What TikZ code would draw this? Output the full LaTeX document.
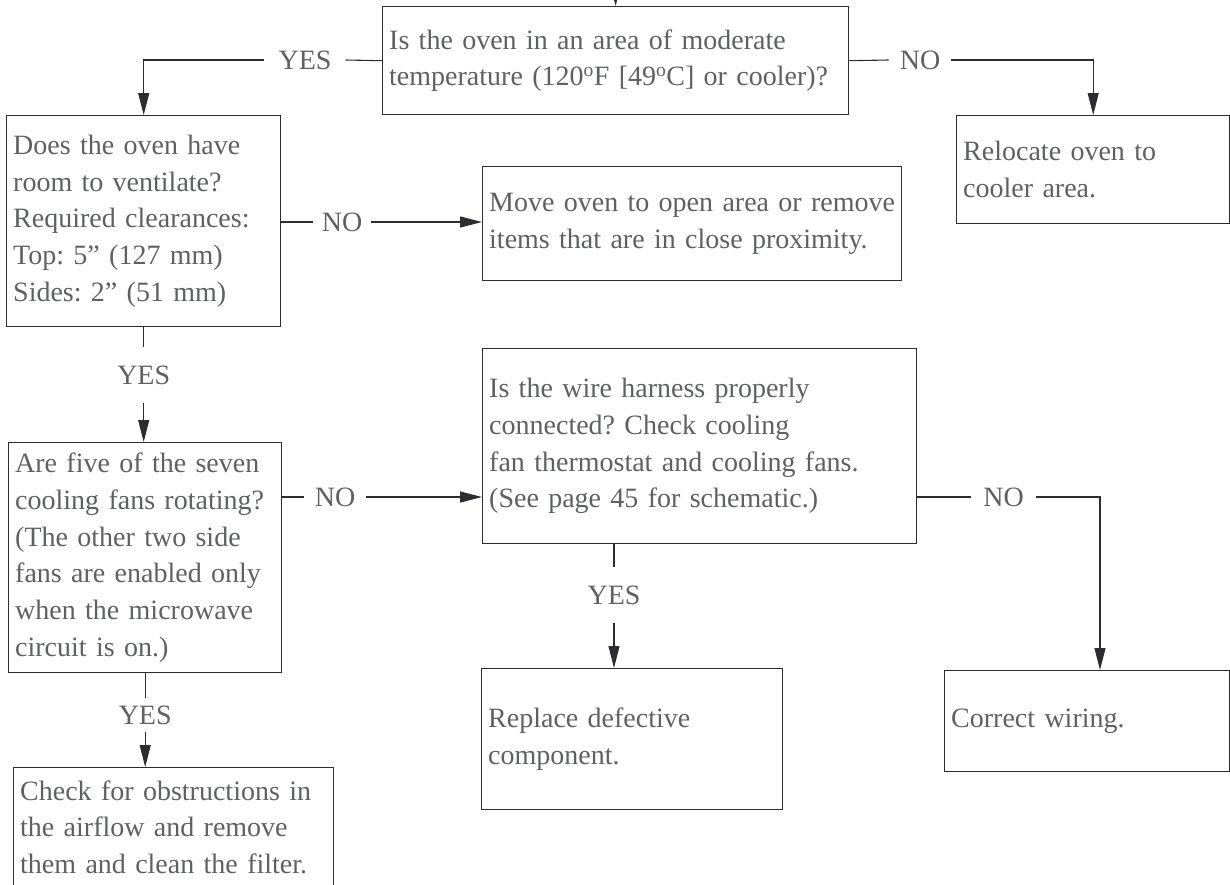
\documentclass[tikz,border=0pt]{standalone}
\usepackage{fontspec}
\setmainfont{Liberation Serif}
\usepackage{tikz}
\usetikzlibrary{arrows.meta,positioning}
\definecolor{flowtext}{RGB}{95,96,98}
\definecolor{flowline}{RGB}{45,45,47}
\frenchspacing

\begin{document}
\begin{tikzpicture}[
  x=1pt,y=-1pt,
  box/.style={draw=flowline,line width=1.4pt,align=left,text=flowtext,
    inner xsep=6.5pt,inner ysep=0pt,anchor=north west,
    font=\fontsize{28}{36.7}\selectfont},
  lbl/.style={text=flowtext,inner xsep=11pt,inner ysep=18pt,
    font=\fontsize{28}{36.7}\selectfont},
  link/.style={line width=1.1pt,draw=flowline},
  arr/.style={link,-{Triangle[length=22pt,width=11pt]}}
]
\useasboundingbox (0,0) rectangle (1230,884);
\clip (0,0) rectangle (1230,884);
\node[box,text width=453pt,minimum height=108pt] (temp) at (382,6) {Is the oven in an area of moderate\\temperature (120\textsuperscript{o}F [49\textsuperscript{o}C] or cooler)?};
\node[box,text width=261pt,minimum height=211pt] (vent) at (6,115) {Does the oven have\\room to ventilate?\\Required clearances:\\Top: 5” (127 mm)\\Sides: 2” (51 mm)};
\node[box,text width=260pt,minimum height=108pt] (reloc) at (956,115) {Relocate oven to\\cooler area.};
\node[box,text width=406pt,minimum height=114pt] (move) at (482,166) {Move oven to open area or remove\\items that are in close proximity.};
\node[box,text width=260pt,minimum height=230pt] (fans) at (8,442) {Are five of the seven\\cooling fans rotating?\\(The other two side\\fans are enabled only\\when the microwave\\circuit is on.)};
\node[box,text width=421pt,minimum height=195pt] (harness) at (482,348) {Is the wire harness properly\\connected? Check cooling\\fan thermostat and cooling fans.\\(See page 45 for schematic.)};
\node[box,text width=288pt,minimum height=141pt] (replace) at (481,668) {Replace defective\\component.};
\node[box,text width=272pt,minimum height=101pt] (wiring) at (944,670) {Correct wiring.};
\node[box,text width=307pt,minimum height=119pt] (obstr) at (13,767) {Check for obstructions in\\the airflow and remove\\them and clean the filter.};

\node[lbl,inner xsep=14pt] (yestemp) at (305,60) {YES};
\node[lbl] (notemp) at (920,60) {NO};
\node[lbl,inner xsep=9pt] (novent) at (342,222) {NO};
\node[lbl,inner ysep=18.5pt] (yesvent) at (vent.south |- 0,375) {YES};
\node[lbl] (nofans) at (335,497) {NO};
\node[lbl,inner ysep=7.5pt] (yesfans) at (fans.south |- 0,715) {YES};
\node[lbl,inner xsep=12pt] (noharn) at (1003.5,497) {NO};
\node[lbl] (yesharn) at (614,595) {YES};
\coordinate (entry) at (615,-30);
\coordinate (bend) at (1100,497);

\draw[arr] (entry) -- (temp.north);
\draw[link] (temp.west) -- (yestemp.east);
\draw[arr] (yestemp.west) -| (vent.north);
\draw[link] (temp.east) -- (notemp.west);
\draw[arr] (notemp.east) -| (reloc.north);
\draw[link] (novent.west -| vent.east) -- (novent.west);
\draw[arr] (novent.east) -- (novent.east -| move.west);
\draw[link] (vent.south) -- (yesvent.north);
\draw[arr] (yesvent.south) -- (yesvent.south |- fans.north);
\draw[link] (nofans.west -| fans.east) -- (nofans.west);
\draw[arr] (nofans.east) -- (nofans.east -| harness.west);
\draw[link] (fans.south) -- (yesfans.north);
\draw[arr] (yesfans.south) -- (yesfans.south |- obstr.north);
\draw[link] (noharn.west -| harness.east) -- (noharn.west);
\draw[arr] (noharn.east) -- (bend) -- (bend |- wiring.north);
\draw[link] (yesharn.north |- harness.south) -- (yesharn.north);
\draw[arr] (yesharn.south) -- (yesharn.south |- replace.north);
\end{tikzpicture}
\end{document}
